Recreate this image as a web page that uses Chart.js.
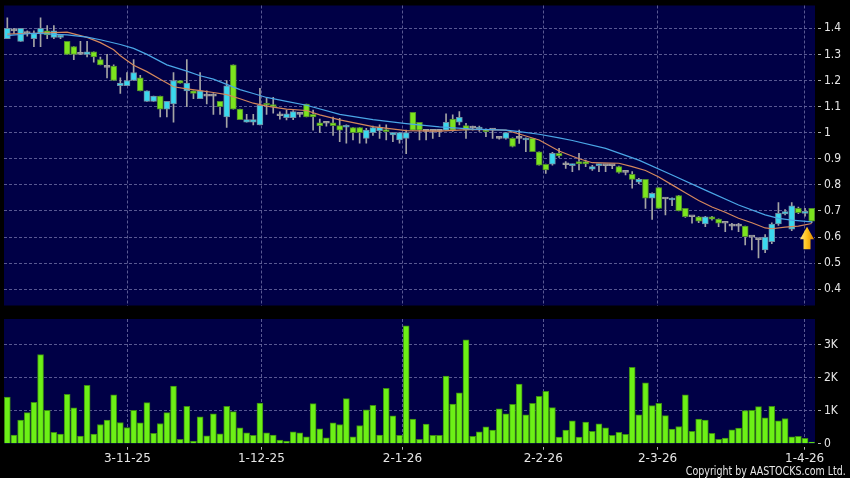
<!DOCTYPE html>
<html>
<head>
<meta charset="utf-8">
<script src="https://cdn.jsdelivr.net/npm/chart.js@4.4.1/dist/chart.umd.min.js"></script>
<style>
    html, body { margin: 0; padding: 0; background: #000; }
    #wrap { position: relative; width: 850px; height: 478px; overflow: hidden; background: #000; }
    #price_Chart { position: absolute; left: 0; top: 0; }
    #volume_Chart { position: absolute; left: 0; top: 310px; }
    #copy { position: absolute; right: 4px; top: 464px; line-height: 14px; white-space: nowrap;
            transform: scaleX(0.88); transform-origin: right center;
            font: 12px 'DejaVu Sans Condensed', 'DejaVu Sans', sans-serif; color: #e6e6e6; }
</style>
</head>
<body>
<div id="wrap">
    <canvas id="price_Chart" width="850" height="310"></canvas>
    <canvas id="volume_Chart" width="850" height="168"></canvas>
    <div id="copy">Copyright by AASTOCKS.com Ltd.</div>
</div>
<script>
// 날짜 눈금 (거래일 인덱스 기준 위치)
const dateTickLabels = ['3-11-25', '1-12-25', '2-1-26', '2-2-26', '2-3-26', '1-4-26'];
const dateTickPos = [18.06, 38.22, 59.44, 80.62, 97.82, 119.94];
const priceTicks = [0.4, 0.5, 0.6, 0.7, 0.8, 0.9, 1.0, 1.1, 1.2, 1.3, 1.4];
const volumeTicks = [0, 1, 2, 3];

// 일봉 (시가 / 고가 / 저가 / 종가)
const priceOpen = [
    1.36, 1.39, 1.35, 1.38, 1.36, 1.38, 1.39, 1.365, 1.365, 1.35,
    1.33, 1.30, 1.30, 1.31, 1.28, 1.25, 1.255, 1.18, 1.18, 1.20,
    1.21, 1.12, 1.12, 1.14, 1.09, 1.11, 1.20, 1.16, 1.16, 1.13,
    1.14, 1.14, 1.12, 1.06, 1.26, 1.09, 1.04, 1.04, 1.03, 1.11,
    1.105, 1.065, 1.058, 1.058, 1.07, 1.11, 1.07, 1.038, 1.036, 1.038,
    1.027, 1.021, 1.02, 1.02, 0.978, 1.0, 1.008, 1.01, 0.991, 0.972,
    0.978, 1.078, 1.04, 1.005, 1.005, 1.005, 1.01, 1.052, 1.04, 1.027,
    1.018, 1.014, 1.01, 1.01, 0.978, 0.978, 0.978, 0.978, 0.972, 0.978,
    0.927, 0.879, 0.879, 0.921, 0.877, 0.874, 0.889, 0.889, 0.86, 0.874,
    0.874, 0.874, 0.87, 0.848, 0.84, 0.81, 0.821, 0.749, 0.79, 0.746,
    0.742, 0.759, 0.71, 0.678, 0.678, 0.65, 0.678, 0.669, 0.653, 0.642,
    0.642, 0.642, 0.60, 0.59, 0.551, 0.582, 0.65, 0.689, 0.63, 0.71,
    0.691, 0.71
];
const priceHigh = [
    1.44, 1.40, 1.40, 1.39, 1.39, 1.44, 1.41, 1.41, 1.37, 1.35,
    1.33, 1.35, 1.35, 1.31, 1.29, 1.30, 1.26, 1.21, 1.23, 1.28,
    1.22, 1.16, 1.14, 1.14, 1.12, 1.23, 1.20, 1.28, 1.16, 1.23,
    1.16, 1.15, 1.12, 1.20, 1.26, 1.09, 1.07, 1.07, 1.17, 1.135,
    1.135, 1.08, 1.087, 1.085, 1.075, 1.11, 1.087, 1.052, 1.04, 1.06,
    1.055, 1.03, 1.02, 1.02, 1.017, 1.025, 1.03, 1.03, 1.0, 1.0,
    1.01, 1.078, 1.04, 1.01, 1.01, 1.01, 1.072, 1.068, 1.081, 1.036,
    1.025, 1.025, 1.015, 1.015, 0.985, 1.0, 0.98, 1.01, 0.98, 0.978,
    0.927, 0.88, 0.925, 0.94, 0.889, 0.88, 0.921, 0.895, 0.875, 0.88,
    0.876, 0.876, 0.872, 0.85, 0.851, 0.825, 0.821, 0.77, 0.79, 0.75,
    0.75, 0.76, 0.71, 0.68, 0.68, 0.68, 0.68, 0.67, 0.655, 0.653,
    0.653, 0.642, 0.60, 0.594, 0.61, 0.655, 0.732, 0.705, 0.732, 0.715,
    0.71, 0.71
];
const priceLow = [
    1.36, 1.38, 1.35, 1.37, 1.33, 1.33, 1.36, 1.36, 1.36, 1.30,
    1.28, 1.30, 1.29, 1.27, 1.26, 1.21, 1.20, 1.15, 1.18, 1.20,
    1.16, 1.12, 1.12, 1.06, 1.06, 1.04, 1.19, 1.10, 1.13, 1.13,
    1.11, 1.07, 1.07, 1.02, 1.09, 1.05, 1.04, 1.03, 1.03, 1.07,
    1.075, 1.052, 1.049, 1.05, 1.06, 1.06, 1.01, 1.0, 1.025, 0.99,
    0.966, 0.96, 0.972, 0.96, 0.96, 0.99, 0.978, 0.972, 0.966, 0.96,
    0.92, 1.01, 0.972, 0.972, 0.978, 0.985, 1.01, 1.005, 1.03, 0.978,
    1.01, 1.005, 0.985, 0.978, 0.975, 0.975, 0.945, 0.959, 0.927, 0.927,
    0.876, 0.844, 0.876, 0.905, 0.863, 0.851, 0.857, 0.87, 0.855, 0.851,
    0.851, 0.862, 0.845, 0.838, 0.787, 0.805, 0.71, 0.668, 0.71, 0.685,
    0.72, 0.70, 0.675, 0.653, 0.655, 0.64, 0.665, 0.64, 0.621, 0.627,
    0.621, 0.57, 0.551, 0.52, 0.54, 0.575, 0.645, 0.685, 0.625, 0.69,
    0.68, 0.655
];
const priceClose = [
    1.40, 1.39, 1.40, 1.38, 1.38, 1.40, 1.375, 1.39, 1.37, 1.30,
    1.30, 1.30, 1.31, 1.29, 1.26, 1.25, 1.20, 1.19, 1.20, 1.23,
    1.16, 1.16, 1.14, 1.09, 1.12, 1.20, 1.19, 1.19, 1.15, 1.16,
    1.14, 1.14, 1.10, 1.18, 1.09, 1.05, 1.05, 1.05, 1.105, 1.105,
    1.10, 1.065, 1.072, 1.081, 1.07, 1.06, 1.06, 1.027, 1.036, 1.027,
    1.01, 1.027, 1.0, 1.0, 1.01, 1.02, 1.021, 1.004, 1.0, 1.0,
    1.0, 1.01, 1.01, 1.005, 1.005, 1.005, 1.04, 1.01, 1.059, 1.01,
    1.018, 1.021, 1.004, 1.01, 0.978, 1.0, 0.947, 0.978, 0.978, 0.927,
    0.876, 0.857, 0.921, 0.911, 0.877, 0.878, 0.88, 0.88, 0.87, 0.878,
    0.874, 0.874, 0.848, 0.848, 0.821, 0.821, 0.749, 0.768, 0.71, 0.746,
    0.746, 0.70, 0.678, 0.678, 0.661, 0.678, 0.669, 0.653, 0.653, 0.642,
    0.642, 0.602, 0.60, 0.59, 0.60, 0.65, 0.691, 0.698, 0.72, 0.694,
    0.698, 0.661
];

// 이동평균선 (그림에서 읽은 지점)
const maShortIdx = [0, 4, 9, 12, 14, 16, 17, 19, 21, 23, 25, 27, 29, 31, 33, 35, 37, 39, 42, 45, 47, 50, 55, 60, 65, 70, 75, 77, 80, 83, 86, 88, 92, 94, 96, 98, 100, 102, 104, 106, 108, 110, 112, 114, 115, 117, 119, 121];
const maShort = [1.378, 1.381, 1.385, 1.365, 1.345, 1.318, 1.295, 1.258, 1.234, 1.205, 1.176, 1.168, 1.161, 1.154, 1.146, 1.13, 1.113, 1.102, 1.09, 1.085, 1.068, 1.049, 1.023, 1.008, 1.006, 1.013, 1.01, 0.995, 0.972, 0.93, 0.90, 0.885, 0.883, 0.87, 0.855, 0.83, 0.80, 0.77, 0.74, 0.715, 0.695, 0.672, 0.655, 0.635, 0.632, 0.638, 0.642, 0.652];
const maLongIdx = [0, 4, 9, 12, 14, 17, 19, 21, 24, 27, 29, 31, 33, 35, 37, 39, 42, 45, 50, 55, 60, 65, 70, 75, 77, 80, 83, 85, 90, 95, 100, 105, 110, 114, 116, 118, 121];
const maLong = [1.372, 1.381, 1.375, 1.366, 1.356, 1.338, 1.323, 1.30, 1.26, 1.236, 1.218, 1.205, 1.185, 1.165, 1.15, 1.135, 1.12, 1.105, 1.07, 1.05, 1.035, 1.022, 1.014, 1.01, 1.004, 0.994, 0.98, 0.97, 0.94, 0.895, 0.838, 0.78, 0.723, 0.685, 0.672, 0.665, 0.658];

// 거래량 (K)
const volume = [
    1.41, 0.26, 0.71, 0.94, 1.25, 2.69, 1.01, 0.34, 0.29, 1.49,
    1.08, 0.23, 1.76, 0.29, 0.58, 0.71, 1.48, 0.64, 0.49, 1.01,
    0.63, 1.24, 0.31, 0.61, 0.94, 1.74, 0.13, 1.13, 0.08, 0.81,
    0.24, 0.90, 0.30, 1.13, 0.97, 0.48, 0.33, 0.25, 1.23, 0.33,
    0.26, 0.11, 0.08, 0.36, 0.33, 0.21, 1.21, 0.45, 0.18, 0.63,
    0.58, 1.36, 0.21, 0.55, 1.02, 1.16, 0.26, 1.67, 0.84, 0.25,
    3.56, 0.74, 0.13, 0.59, 0.25, 0.25, 2.04, 1.20, 1.54, 3.14,
    0.22, 0.36, 0.51, 0.41, 1.05, 0.90, 1.19, 1.80, 0.87, 1.22,
    1.43, 1.58, 1.09, 0.20, 0.41, 0.69, 0.20, 0.65, 0.37, 0.60,
    0.48, 0.25, 0.34, 0.28, 2.31, 0.87, 1.84, 1.15, 1.22, 0.85,
    0.44, 0.52, 1.48, 0.37, 0.74, 0.71, 0.31, 0.13, 0.17, 0.42,
    0.47, 1.00, 1.01, 1.12, 0.78, 1.13, 0.69, 0.76, 0.21, 0.22,
    0.16, 0.05
];

// 마지막 봉 아래 화살표 (인덱스, 위/아래 가격)
const arrowMark = { idx: 120.3, top: 0.64, bottom: 0.553 };

const gridColor = 'rgba(105, 105, 160, 0.85)';
const tickColor = '#b4b4b4';
const labelColor = '#e6e6e6';
const plotColor = '#000046';

const plotBg = {
    id: 'plotBg',
    beforeDraw(chart) {
        const { ctx, chartArea: a } = chart;
        ctx.save();
        ctx.fillStyle = plotColor;
        ctx.fillRect(a.left, a.top, a.right - a.left, a.bottom - a.top);
        ctx.restore();
    }
};

const upArrow = {
    id: 'upArrow',
    afterDatasetsDraw(chart) {
        const { ctx, scales } = chart;
        const cx = scales.x.getPixelForValue(arrowMark.idx);
        const top = scales.y.getPixelForValue(arrowMark.top);
        const bottom = scales.y.getPixelForValue(arrowMark.bottom);
        const h = bottom - top;
        const grad = ctx.createLinearGradient(cx - 7, 0, cx + 7, 0);
        grad.addColorStop(0, '#ffe680');
        grad.addColorStop(0.5, '#ffc21a');
        grad.addColorStop(1, '#d98500');
        ctx.save();
        ctx.fillStyle = grad;
        ctx.beginPath();
        ctx.moveTo(cx, top);
        ctx.lineTo(cx + 7, top + h * 0.55);
        ctx.lineTo(cx + 3.5, top + h * 0.55);
        ctx.lineTo(cx + 3.5, bottom);
        ctx.lineTo(cx - 3.5, bottom);
        ctx.lineTo(cx - 3.5, top + h * 0.55);
        ctx.lineTo(cx - 7, top + h * 0.55);
        ctx.closePath();
        ctx.fill();
        ctx.restore();
    }
};

const bodyFill = (o, c) => c > o ? '#3ad8ee' : (c < o ? '#7ce41e' : '#a0a0a0');
const bodyEdge = (o, c) => c > o ? '#6f8da2' : (c < o ? '#4e8a2c' : '#a0a0a0');

const xTicks = (axis) => { axis.ticks = dateTickPos.map(v => ({ value: v })); };
const tickDash = [0, 3, 3, 10];

document.addEventListener('DOMContentLoaded', () => {
    Chart.defaults.font.family = "'DejaVu Sans', sans-serif";

    const bodies = priceOpen.map((o, i) => ({ x: i, y: [o, priceClose[i]] }));
    const wicks = priceLow.map((l, i) => ({ x: i, y: [l, priceHigh[i]] }));

    const ctxPrice = document.getElementById('price_Chart').getContext('2d');
    new Chart(ctxPrice, {
        type: 'bar',
        data: {
            datasets: [
                {
                    type: 'line',
                    data: maLongIdx.map((k, i) => ({ x: k, y: maLong[i] })),
                    borderColor: '#4aa6e6',
                    borderWidth: 1.2,
                    pointRadius: 0,
                    order: 0
                },
                {
                    type: 'line',
                    data: maShortIdx.map((k, i) => ({ x: k, y: maShort[i] })),
                    borderColor: '#d4875c',
                    borderWidth: 1.2,
                    pointRadius: 0,
                    order: 0
                },
                {
                    data: bodies,
                    backgroundColor: priceOpen.map((o, i) => bodyFill(o, priceClose[i])),
                    borderColor: priceOpen.map((o, i) => bodyEdge(o, priceClose[i])),
                    borderWidth: 1,
                    borderSkipped: false,
                    barThickness: 6,
                    minBarLength: 2,
                    grouped: false,
                    order: 1
                },
                {
                    data: wicks,
                    backgroundColor: '#a4a4a4',
                    barThickness: 1,
                    grouped: false,
                    order: 2
                }
            ]
        },
        options: {
            responsive: false,
            animation: false,
            layout: { padding: { left: 4, right: 0, top: 5.5, bottom: 4.5 } },
            plugins: {
                legend: { display: false },
                tooltip: { enabled: false }
            },
            scales: {
                x: {
                    type: 'linear',
                    offset: false,
                    min: -0.5,
                    max: 121.5,
                    afterBuildTicks: xTicks,
                    afterFit: (axis) => { axis.height = 0; axis.paddingLeft = 0; axis.paddingRight = 0; },
                    ticks: { display: false },
                    grid: { offset: false, color: gridColor, drawTicks: false },
                    border: { display: false, dash: [3, 2] }
                },
                y: {
                    position: 'right',
                    min: 0.3379,
                    max: 1.4873,
                    afterBuildTicks: (axis) => { axis.ticks = priceTicks.map(v => ({ value: v })); },
                    afterFit: (axis) => { axis.width = 35; axis.paddingTop = 0; axis.paddingBottom = 0; },
                    ticks: {
                        color: labelColor,
                        padding: 3,
                        font: { family: "'DejaVu Sans Condensed', 'DejaVu Sans', sans-serif", size: 12 },
                        callback: (value) => String(Number(value.toFixed(2)))
                    },
                    grid: { color: gridColor, tickLength: 6, tickColor: tickColor, tickBorderDash: tickDash },
                    border: { display: false, dash: [3, 2] }
                }
            }
        },
        plugins: [plotBg, upArrow]
    });

    const ctxVolume = document.getElementById('volume_Chart').getContext('2d');
    new Chart(ctxVolume, {
        type: 'bar',
        data: {
            datasets: [{
                data: volume.map((v, i) => ({ x: i, y: v })),
                backgroundColor: '#6cf016',
                borderColor: '#3c8c12',
                borderWidth: 1,
                borderSkipped: 'bottom',
                barThickness: 6
            }]
        },
        options: {
            responsive: false,
            animation: false,
            layout: { padding: { left: 4, right: 0, top: 9, bottom: 0 } },
            plugins: {
                legend: { display: false },
                tooltip: { enabled: false }
            },
            scales: {
                x: {
                    type: 'linear',
                    offset: false,
                    min: -0.5,
                    max: 121.5,
                    afterBuildTicks: xTicks,
                    afterFit: (axis) => { axis.height = 34.3; axis.paddingLeft = 0; axis.paddingRight = 0; },
                    ticks: {
                        color: labelColor,
                        padding: 2,
                        maxRotation: 0,
                        autoSkip: false,
                        font: { size: 12 },
                        callback: (value, index) => dateTickLabels[index]
                    },
                    grid: { offset: false, color: gridColor, tickLength: 6, tickColor: tickColor, tickBorderDash: tickDash },
                    border: { display: false, dash: [3, 2] }
                },
                y: {
                    position: 'right',
                    min: 0,
                    max: 3.767,
                    afterBuildTicks: (axis) => { axis.ticks = volumeTicks.map(v => ({ value: v })); },
                    afterFit: (axis) => { axis.width = 35; axis.paddingTop = 0; axis.paddingBottom = 0; },
                    ticks: {
                        color: labelColor,
                        padding: 3,
                        font: { family: "'DejaVu Sans Condensed', 'DejaVu Sans', sans-serif", size: 12 },
                        callback: (value) => value === 0 ? '0' : value + 'K'
                    },
                    grid: {
                        color: (c) => (c.tick && c.tick.value === 0) ? 'rgba(0,0,0,0)' : gridColor,
                        tickLength: 6,
                        tickColor: tickColor,
                        tickBorderDash: tickDash
                    },
                    border: { display: false, dash: [3, 2] }
                }
            }
        },
        plugins: [plotBg]
    });
});
</script>
</body>
</html>
